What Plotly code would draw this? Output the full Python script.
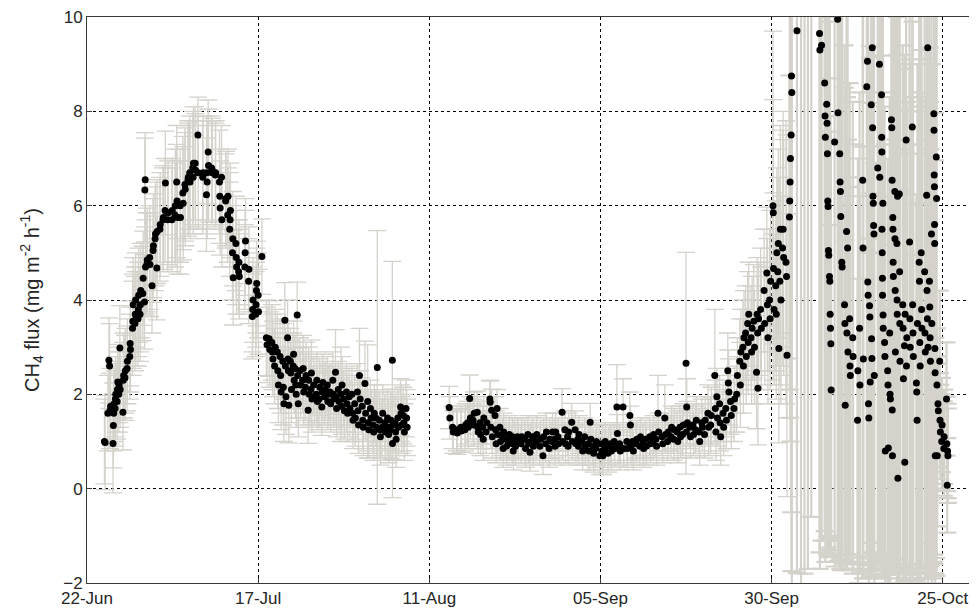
import pandas as pd
import plotly.graph_objects as go

START = pd.Timestamp("2013-06-22")

tick_dates = ["2013-06-22", "2013-07-17", "2013-08-11", "2013-09-05", "2013-09-30", "2013-10-25"]
tick_labels = ["22-Jun", "17-Jul", "11-Aug", "05-Sep", "30-Sep", "25-Oct"]
y_ticks = [-2, 0, 2, 4, 6, 8, 10]

# ---- 24 Jun - 17 Jul : rise and peak (days since 22 Jun) ----
t_rise = [
    2.55, 2.65, 3.05, 3.20, 3.30, 3.36, 3.45,
    3.80, 3.85, 3.90, 3.95, 4.10, 4.15, 4.20,
    4.40, 4.45, 4.50, 4.65, 4.70, 4.80, 4.85,
    5.25, 5.30, 5.35, 5.55, 5.60, 5.85, 5.90,
    6.25, 6.30, 6.35, 6.65, 6.70, 6.75, 7.00,
    7.05, 7.10, 7.15, 7.45, 7.50, 7.55, 7.75,
    7.80, 7.85, 8.15, 8.20, 8.40, 8.45, 8.50,
    8.55, 8.75, 8.80, 9.15, 9.20, 9.50, 9.65,
    9.70, 9.95, 10.00, 10.20, 10.25, 10.65, 10.70,
    11.10, 11.15, 11.40, 11.45, 11.80, 11.85, 12.40,
    12.45, 12.85, 12.90, 13.10, 13.15, 13.20, 13.60,
    13.65, 14.00, 14.05, 14.30, 14.35, 14.75, 14.80,
    15.00, 15.05, 15.45, 15.50, 15.55, 15.80, 15.85,
    16.20, 16.25, 16.90, 16.95, 17.45, 17.50, 17.55,
    17.70, 17.75, 18.20, 18.25, 18.30, 18.75, 18.80,
    19.35, 19.40, 19.45, 19.65, 19.70, 20.25, 20.30,
    20.55, 20.60, 20.85, 20.90, 20.95, 21.25, 21.30,
    21.35, 21.75, 21.80, 21.85, 22.15, 22.20, 22.25,
    23.05, 23.10, 23.15, 23.60, 23.65, 24.15, 24.20,
    24.25, 24.65, 24.70, 24.75, 24.80, 25.00, 25.05,
    25.55,
]
f_rise = [
    1.00, 0.98, 1.60, 2.72, 2.60, 1.65, 1.75,
    0.96, 1.34, 1.60, 1.80, 1.70, 1.90, 2.00,
    1.85, 2.10, 2.26, 2.00, 2.20, 2.98, 2.10,
    1.62, 2.30, 2.40, 2.35, 2.50, 2.55, 2.70,
    2.80, 3.08, 2.95, 3.40, 3.55, 3.90, 3.50,
    3.70, 4.00, 3.60, 3.60, 3.80, 4.10, 3.70,
    3.90, 4.20, 4.14, 4.46, 3.96, 6.33, 6.55,
    4.70, 4.75, 4.85, 4.90, 4.75, 4.30, 5.05,
    5.15, 5.30, 5.40, 4.68, 5.45, 5.50, 5.60,
    5.70, 5.75, 5.90, 6.48, 5.70, 5.85, 5.70,
    5.90, 5.80, 6.00, 6.50, 6.10, 5.75, 6.00,
    5.75, 6.27, 6.05, 6.45, 6.35, 6.55, 6.60,
    6.70, 6.50, 6.80, 6.60, 6.90, 6.90, 6.75,
    7.50, 6.70, 6.60, 6.70, 6.23, 6.70, 6.50,
    7.14, 6.85, 6.80, 6.70, 6.75, 6.65, 6.70,
    6.50, 6.20, 5.95, 6.60, 5.70, 6.10, 6.15,
    5.80, 6.20, 5.50, 5.70, 5.90, 5.00, 5.30,
    4.47, 5.20, 4.90, 4.70, 4.60, 4.80, 4.50,
    4.70, 5.00, 5.25, 4.40, 4.65, 3.65, 3.80,
    4.00, 3.70, 3.90, 4.20, 4.35, 4.10, 3.75,
    4.92,
]
e_rise = [
    0.90, 1.00, 0.80, 0.90, 0.90, 0.80, 0.80,
    1.05, 0.90, 0.80, 0.80, 0.80, 0.80, 0.80,
    0.80, 0.80, 0.80, 0.80, 0.80, 0.90, 0.80,
    0.80, 0.80, 0.90, 0.90, 0.90, 0.90, 0.90,
    0.90, 0.90, 0.90, 1.00, 1.00, 1.00, 1.00,
    1.00, 1.00, 1.00, 1.00, 1.00, 1.00, 1.00,
    1.00, 1.00, 1.00, 1.00, 1.00, 1.10, 1.00,
    1.00, 1.10, 1.10, 1.10, 1.10, 1.00, 1.10,
    1.10, 1.10, 1.10, 1.10, 1.10, 1.10, 1.10,
    1.10, 1.10, 1.10, 1.10, 1.10, 1.10, 1.10,
    1.10, 1.10, 1.20, 1.20, 1.20, 1.20, 1.20,
    1.20, 1.20, 1.20, 1.20, 1.20, 1.20, 1.20,
    1.20, 1.20, 1.20, 1.20, 1.20, 1.20, 1.20,
    0.80, 1.20, 1.20, 1.20, 1.20, 1.20, 1.20,
    1.10, 1.20, 1.10, 1.10, 1.10, 1.10, 1.10,
    1.10, 1.00, 1.00, 1.10, 1.00, 1.00, 1.00,
    1.00, 1.00, 1.00, 1.00, 1.00, 1.00, 1.00,
    1.00, 1.00, 1.00, 1.00, 0.90, 0.90, 0.90,
    0.90, 0.90, 0.90, 0.90, 0.90, 0.90, 0.90,
    0.90, 0.90, 0.90, 0.90, 0.90, 0.90, 0.90,
    0.80,
]

# ---- 18 Jul - 8 Aug : decline ----
t_jul = [
    26.20, 26.30, 26.60, 26.70, 27.00, 27.08, 27.16, 27.40, 27.50,
    27.80, 27.88, 27.96, 28.20, 28.28, 28.36, 28.60, 28.68, 28.76,
    28.90, 28.98, 29.06, 29.30, 29.36, 29.42, 29.48, 29.70, 29.78, 29.86,
    30.10, 30.18, 30.26, 30.40, 30.48, 30.56, 30.70, 30.78, 30.86,
    31.10, 31.20, 31.50, 31.58, 31.66, 31.90, 32.00,
    32.30, 32.38, 32.46, 32.70, 32.78, 32.86, 33.10, 33.20,
    33.50, 33.58, 33.66, 33.90, 34.00, 34.30, 34.38, 34.46, 34.70, 34.80,
    35.10, 35.18, 35.26, 35.50, 35.60, 35.90, 35.98, 36.06,
    36.30, 36.38, 36.46, 36.70, 36.80, 37.10, 37.18, 37.26, 37.50, 37.60,
    37.90, 37.98, 38.06, 38.30, 38.40, 38.70, 38.78, 38.86, 39.10, 39.20,
    39.50, 39.58, 39.66, 39.80, 39.90, 40.20, 40.28, 40.36, 40.60, 40.70,
    41.00, 41.08, 41.16, 41.40, 41.50, 41.80, 41.88, 41.96, 42.20, 42.30,
    42.40, 42.70, 42.78, 42.86, 43.10, 43.20, 43.50, 43.60,
    43.90, 43.98, 44.06, 44.30, 44.40, 44.60, 44.62, 44.70,
    45.00, 45.08, 45.16, 45.40, 45.50, 45.80, 45.88, 45.96,
    46.20, 46.28, 46.36, 46.60, 46.68, 46.76,
]
f_jul = [
    3.20, 3.05, 3.18, 2.95, 3.10, 2.90, 2.75, 2.60, 3.00,
    2.90, 2.50, 2.20, 2.80, 2.40, 2.05, 2.70, 2.15, 1.80,
    3.57, 2.60, 1.95, 3.20, 2.75, 2.50, 1.77, 2.70, 2.45, 2.10,
    2.60, 2.85, 2.30, 2.55, 2.20, 2.00, 3.68, 2.40, 1.80,
    2.50, 2.20, 2.30, 2.55, 2.05, 2.15, 2.40,
    1.66, 2.30, 2.00, 2.10, 2.45, 1.90, 2.20, 1.95,
    2.00, 2.30, 1.85, 1.90, 2.15, 1.73, 2.05, 2.25, 1.95, 2.10,
    2.20, 1.85, 2.00, 2.05, 1.80, 2.30, 2.00, 1.90,
    2.47, 1.95, 1.70, 2.10, 1.85, 2.00, 1.75, 2.20, 1.90, 1.65,
    2.05, 1.80, 1.60, 1.95, 1.70, 2.00, 1.60, 1.45, 1.80, 1.50,
    2.05, 1.65, 1.35, 2.40, 1.90, 1.75, 1.45, 1.30, 2.23, 1.60,
    1.85, 1.40, 1.25, 1.70, 1.50, 1.35, 1.20, 1.60, 1.50, 1.30,
    2.57, 1.45, 1.25, 1.10, 1.30, 1.60, 1.40, 1.20,
    1.50, 1.30, 1.15, 1.25, 1.45, 2.72, 0.96, 1.35,
    1.40, 1.20, 1.05, 1.50, 1.30, 1.73, 1.60, 1.35,
    1.55, 1.40, 1.20, 1.70, 1.50, 1.30,
]
e_jul = [
    0.80, 0.80, 0.80, 0.80, 0.80, 0.80, 0.80, 0.80, 0.80,
    0.80, 0.80, 0.80, 0.80, 0.80, 0.80, 0.80, 0.80, 0.80,
    0.80, 0.80, 0.80, 0.80, 0.80, 0.80, 0.80, 0.70, 0.70, 0.70,
    0.70, 0.70, 0.70, 0.70, 0.70, 0.70, 0.70, 0.70, 0.70,
    0.70, 0.70, 0.70, 0.70, 0.70, 0.70, 0.70,
    0.70, 0.70, 0.70, 0.70, 0.70, 0.70, 0.60, 0.60,
    0.60, 0.60, 0.60, 0.60, 0.60, 0.60, 0.60, 0.60, 0.60, 0.60,
    0.60, 0.60, 0.60, 0.60, 0.60, 0.60, 0.60, 0.60,
    0.90, 0.60, 0.60, 0.60, 0.60, 1.00, 0.60, 0.60, 0.60, 0.60,
    0.60, 0.60, 0.60, 0.60, 0.60, 0.60, 0.60, 0.60, 0.60, 0.60,
    0.60, 0.60, 0.60, 1.00, 0.60, 0.60, 0.60, 0.60, 0.90, 0.60,
    1.20, 0.60, 0.60, 0.60, 0.60, 0.60, 0.60, 0.60, 0.60, 0.60,
    2.90, 0.60, 0.60, 0.60, 0.60, 0.60, 0.60, 0.60,
    0.60, 0.60, 0.60, 0.60, 0.60, 2.10, 1.15, 0.60,
    0.60, 0.60, 0.60, 0.60, 0.60, 0.60, 0.60, 0.60,
    0.60, 0.60, 0.60, 0.60, 0.60, 0.60,
]

# ---- 14 Aug - 2 Oct : low plateau and rise ----
t_aug = [
    52.90, 53.00, 53.40, 53.50, 54.00, 54.10, 54.60, 54.70,
    55.20, 55.30, 55.60, 55.70, 55.90, 56.00, 56.40, 56.48, 56.56,
    57.00, 57.08, 57.16, 57.40, 57.50, 57.80, 57.88, 57.96, 58.30, 58.40,
    58.85, 58.90, 58.98, 59.10, 59.20, 59.60, 59.68, 59.76, 59.90, 60.00,
    60.30, 60.40, 60.70, 60.78, 60.86, 61.20, 61.30, 61.60, 61.70,
    62.10, 62.18, 62.26, 62.50, 62.60, 62.90, 63.00, 63.40, 63.50,
    63.95, 64.05, 64.40, 64.50, 64.70, 64.80, 65.10, 65.20, 65.60, 65.70,
    66.15, 66.25, 66.60, 66.70, 67.00, 67.10, 67.50, 67.60, 67.90, 68.00,
    68.30, 68.38, 68.46, 68.80, 68.90, 69.40, 69.50, 69.80, 69.90,
    70.20, 70.28, 70.36, 70.80, 70.90, 71.30, 71.40, 71.70, 71.78, 71.86,
    72.30, 72.40, 72.70, 72.80, 73.20, 73.30, 73.50, 73.60, 73.90, 74.00,
    74.30, 74.40, 74.80, 74.90, 75.20, 75.28, 75.36, 75.60, 75.70,
    76.10, 76.20, 76.50, 76.60, 77.00, 77.10, 77.40, 77.48, 77.56,
    77.80, 77.90, 78.30, 78.40, 78.85, 78.95, 79.30, 79.38, 79.46,
    79.70, 79.80, 80.20, 80.30, 80.75, 80.85, 81.20, 81.30, 81.60, 81.70,
    82.20, 82.30, 82.65, 82.75, 83.10, 83.20, 83.40, 83.50, 84.00, 84.10,
    84.40, 84.50, 84.80, 84.90, 85.30, 85.40, 85.70, 85.80, 86.20, 86.30,
    86.60, 86.70, 87.00, 87.10, 87.50, 87.55, 87.60, 87.70, 88.05, 88.15,
    88.50, 88.60, 88.90, 89.00, 89.40, 89.50, 89.80, 89.90, 90.20, 90.30,
    90.70, 90.80, 91.10, 91.20, 91.70, 91.78, 91.86, 92.00, 92.10,
    92.40, 92.48, 92.56, 92.90, 93.00, 93.30, 93.40, 93.60, 93.68, 93.76,
    94.00, 94.10, 94.50, 94.60, 94.90, 95.00, 95.35, 95.43, 95.51,
    95.80, 95.88, 95.96, 96.20, 96.30, 96.50, 96.58, 96.66,
    97.00, 97.08, 97.16, 97.40, 97.50, 97.80, 97.88, 97.96, 98.00, 98.10,
    98.40, 98.50, 98.90, 99.00, 99.30, 99.38, 99.46, 99.70, 99.78, 99.86,
    100.20, 100.24, 100.28, 100.36, 100.60, 100.68, 100.76,
    100.90, 100.98, 101.06, 101.20, 101.28, 101.36, 101.60, 101.68, 101.76,
    102.10, 102.18, 102.25,
]
f_aug = [
    1.72, 1.50, 1.30, 1.20, 1.25, 1.18, 1.30, 1.22,
    1.25, 1.35, 1.40, 1.30, 1.91, 1.50, 1.45, 1.35, 1.60,
    1.62, 1.30, 1.20, 1.40, 1.15, 1.30, 1.05, 1.50, 1.20, 1.40,
    1.90, 1.83, 1.30, 1.66, 1.10, 1.55, 1.25, 0.95, 1.70, 1.15,
    1.30, 1.00, 1.10, 0.85, 1.20, 1.05, 0.90, 1.00, 1.15,
    0.95, 1.10, 0.80, 1.05, 0.90, 1.10, 1.00, 0.95, 1.10,
    1.05, 0.85, 1.15, 0.95, 0.77, 1.00, 1.10, 0.90, 1.00, 1.15,
    0.90, 1.05, 0.70, 1.10, 0.95, 1.20, 0.85, 1.05, 1.00, 1.20,
    1.05, 0.90, 1.20, 1.10, 0.95, 1.62, 1.00, 1.25, 0.95,
    1.10, 0.90, 1.20, 1.41, 1.00, 1.25, 0.95, 1.05, 0.90, 1.15,
    1.00, 0.80, 1.10, 0.90, 0.95, 0.80, 1.41, 1.05, 0.90, 0.75,
    0.85, 1.00, 0.95, 0.70, 0.80, 0.95, 0.70, 0.85, 1.00,
    0.75, 0.90, 0.95, 0.80, 1.00, 0.85, 1.73, 1.17, 0.90,
    0.95, 0.80, 1.73, 0.85, 1.00, 0.85, 1.55, 1.35, 0.90,
    1.00, 0.80, 0.95, 1.05, 0.90, 1.10, 1.00, 0.85, 1.05, 0.90,
    1.10, 0.95, 1.00, 1.15, 1.05, 0.90, 1.60, 1.20, 1.10, 0.95,
    1.50, 1.15, 1.00, 1.20, 1.10, 1.30, 1.05, 1.25, 1.20, 1.00,
    1.30, 1.10, 1.15, 1.35, 2.66, 1.20, 1.73, 1.40, 1.30, 1.10,
    1.35, 1.15, 1.25, 1.45, 1.20, 1.00, 1.40, 1.30, 1.15, 1.45,
    1.60, 1.30, 1.35, 1.55, 2.40, 1.70, 1.20, 1.95, 1.50,
    1.80, 1.40, 1.10, 1.60, 1.30, 1.70, 1.45, 2.50, 2.24, 2.05,
    1.85, 1.55, 1.70, 1.90, 2.00, 2.40, 2.70, 2.20, 2.90,
    3.00, 2.60, 3.20, 3.30, 2.80, 3.50, 3.10, 3.70,
    3.20, 2.90, 3.40, 3.55, 3.00, 2.47, 3.70, 3.30, 2.13, 3.60,
    3.80, 3.40, 4.20, 3.50, 4.57, 3.90, 3.20, 4.00, 3.60, 4.40,
    6.00, 5.85, 4.67, 3.80, 4.30, 3.70, 5.00,
    4.60, 5.20, 2.97, 4.40, 5.50, 4.00, 5.10, 5.50, 4.90,
    4.80, 4.50, 2.83,
]
e_aug = [
    0.45, 0.45, 0.45, 0.45, 0.45, 0.45, 0.45, 0.45,
    0.45, 0.45, 0.45, 0.45, 0.50, 0.45, 0.45, 0.45, 0.45,
    0.45, 0.45, 0.45, 0.45, 0.45, 0.45, 0.45, 0.45, 0.45, 0.45,
    0.40, 0.45, 0.45, 0.45, 0.45, 0.40, 0.40, 0.40, 0.40, 0.40,
    0.40, 0.40, 0.40, 0.40, 0.40, 0.40, 0.40, 0.40, 0.40,
    0.40, 0.40, 0.40, 0.40, 0.40, 0.40, 0.40, 0.40, 0.40,
    0.40, 0.40, 0.40, 0.40, 0.40, 0.40, 0.40, 0.40, 0.40, 0.40,
    0.40, 0.40, 0.40, 0.40, 0.40, 0.40, 0.40, 0.40, 0.40, 0.40,
    0.40, 0.40, 0.40, 0.40, 0.40, 0.50, 0.40, 0.40, 0.40,
    0.40, 0.40, 0.40, 0.40, 0.40, 0.40, 0.40, 0.40, 0.40, 0.40,
    0.40, 0.40, 0.40, 0.40, 0.40, 0.40, 0.40, 0.40, 0.40, 0.40,
    0.40, 0.40, 0.40, 0.40, 0.40, 0.40, 0.40, 0.40, 0.40,
    0.40, 0.40, 0.40, 0.40, 0.40, 0.40, 0.90, 0.40, 0.40,
    0.40, 0.40, 0.60, 0.40, 0.40, 0.40, 0.50, 0.40, 0.40,
    0.40, 0.40, 0.40, 0.40, 0.40, 0.40, 0.40, 0.40, 0.40, 0.40,
    0.40, 0.40, 0.40, 0.40, 0.40, 0.40, 0.80, 0.40, 0.40, 0.40,
    0.70, 0.40, 0.40, 0.40, 0.45, 0.45, 0.45, 0.45, 0.45, 0.45,
    0.45, 0.45, 0.45, 0.45, 2.35, 0.45, 0.60, 0.45, 0.45, 0.45,
    0.45, 0.45, 0.50, 0.50, 0.50, 0.50, 0.50, 0.50, 0.50, 0.50,
    0.60, 0.60, 0.60, 0.60, 1.40, 0.60, 0.60, 0.60, 0.60,
    0.60, 0.60, 0.60, 0.60, 0.60, 0.60, 0.60, 0.80, 0.70, 0.70,
    0.70, 0.70, 0.70, 0.70, 0.80, 0.80, 0.90, 0.90, 0.90,
    1.00, 1.00, 1.00, 1.00, 1.00, 1.10, 1.10, 1.10,
    1.10, 1.10, 1.10, 1.20, 1.20, 1.20, 1.20, 1.20, 1.20, 1.20,
    1.30, 1.30, 1.30, 1.30, 1.40, 1.40, 1.40, 1.50, 1.50, 1.50,
    3.70, 2.40, 1.60, 1.60, 1.80, 1.80, 1.80,
    2.00, 2.00, 2.00, 2.20, 2.20, 2.20, 2.50, 2.50, 2.50,
    3.00, 3.00, 3.00,
]

# ---- 2 Oct - 27 Oct : noisy period (a few values lie above the axis top) ----
t_oct = [
    102.60, 102.65, 102.70, 102.75, 102.85, 102.90,
    102.95, 103.70, 104.30, 104.80, 105.30, 105.80,
    107.00, 107.05, 107.30, 107.75,
    107.80, 107.85, 108.05, 108.10, 108.15, 108.20,
    108.25, 108.30, 108.35, 108.45, 108.50, 108.55,
    108.60, 108.65, 108.70, 109.20, 109.65, 109.70,
    109.95, 110.00, 110.05, 110.10, 110.25, 110.30,
    110.65, 110.70, 110.75, 110.95, 111.00, 111.10,
    111.15, 111.40, 111.45, 111.50, 111.85, 111.90,
    112.55, 112.60, 112.85, 112.90, 113.30, 113.35,
    113.40, 113.90, 114.00, 114.05, 114.10, 114.15,
    114.20, 114.30, 114.35, 114.40, 114.55, 114.60,
    114.65, 114.70, 114.75, 114.80, 114.85, 114.90,
    114.95, 115.00, 115.50, 115.75, 115.80, 116.05,
    116.08, 116.10, 116.12, 116.15, 116.18, 116.20,
    116.25, 116.28, 116.30, 116.50, 116.55, 116.60,
    116.95, 117.00, 117.05, 117.25, 117.30, 117.35,
    117.50, 117.55, 117.60, 117.62, 117.65, 117.70,
    117.72, 117.75, 117.78, 118.00, 118.02, 118.05,
    118.08, 118.30, 118.32, 118.35, 118.40, 118.45,
    118.65, 118.70, 118.72, 118.75, 119.15, 119.20,
    119.25, 119.40, 119.45, 119.50, 119.65, 119.70,
    119.75, 120.15, 120.20, 120.25, 120.55, 120.60,
    120.65, 120.70, 121.15, 121.20, 121.25, 121.30,
    121.55, 121.60, 121.65, 121.70, 121.85, 121.90,
    121.95, 122.35, 122.40, 122.45, 122.65, 122.70,
    122.75, 122.80, 122.85, 123.05, 123.10, 123.15,
    123.20, 123.35, 123.40, 123.70, 123.72, 123.75,
    123.78, 123.80, 123.82, 123.85, 123.88, 123.90,
    124.05, 124.10, 124.15, 124.20, 124.30, 124.35,
    124.55, 124.60, 124.65, 124.85, 124.90, 125.15,
    125.20, 125.55, 125.60, 125.65, 125.70, 125.75,
]
f_oct = [
    5.76, 6.10, 6.50, 7.00, 7.50, 8.75,
    8.40, 9.71, 10.60, 11.20, 10.80, 10.40,
    9.65, 9.30, 9.40, 8.60,
    7.90, 7.45, 8.15, 7.75, 7.10, 6.10,
    5.98, 5.05, 4.95, 4.50, 4.40, 3.70,
    3.40, 3.07, 2.09, 7.35, 9.95, 7.97,
    7.10, 6.50, 6.30, 5.77, 4.80, 4.70,
    3.90, 3.50, 1.77, 5.45, 3.30, 5.10,
    2.90, 3.60, 2.60, 2.40, 3.20, 2.80,
    1.45, 2.50, 3.40, 2.20, 6.54, 5.10,
    2.75, 8.52, 9.06, 4.38, 4.10, 1.80,
    1.50, 3.88, 3.64, 2.26, 8.14, 3.18,
    2.76, 9.35, 7.65, 6.20, 6.05, 5.58,
    5.40, 2.40, 6.80, 9.00, 6.60, 8.35,
    7.45, 7.14, 5.50, 5.00, 4.46, 4.10,
    6.05, 3.68, 3.40, 3.10, 2.80, 0.80,
    2.50, 2.20, 0.86, 3.30, 2.00, 1.90,
    7.82, 7.65, 6.54, 1.67, 0.70, 5.75,
    5.50, 4.80, 4.50, 6.30, 5.30, 4.20,
    2.90, 5.20, 4.00, 3.70, 6.20, 0.22,
    6.25, 4.60, 3.50, 2.70, 3.90, 3.40,
    2.33, 3.03, 0.56, 3.70, 7.39, 2.60,
    3.20, 5.23, 3.60, 3.00, 7.67, 3.90,
    3.30, 2.80, 2.24, 2.05, 1.45, 3.50,
    4.80, 4.40, 3.10, 2.60, 5.00, 3.80,
    3.40, 4.60, 3.30, 2.90, 6.22, 4.20,
    3.60, 9.35, 3.00, 4.40, 3.85, 3.20,
    2.70, 5.40, 3.50, 7.95, 7.60, 6.65,
    6.40, 5.60, 5.20, 2.97, 2.46, 0.70,
    7.03, 6.15, 2.20, 0.70, 1.80, 1.65,
    2.70, 1.45, 1.20, 1.00, 1.35, 0.85,
    1.10, 1.90, 0.95, 0.07, 0.80, 0.70,
]
e_oct = [
    3.0, 4.0, 5.0, 6.0, 8.0, 10.5,
    10.5, 11.5, 13.0, 13.0, 12.5, 11.0,
    11.0, 11.0, 10.5, 9.5,
    9.0, 9.0, 9.5, 9.0, 8.5, 7.5,
    7.0, 6.5, 6.0, 5.5, 5.5, 5.0,
    4.5, 4.5, 3.5, 9.0, 11.5, 9.5,
    8.5, 8.0, 8.0, 7.5, 6.5, 6.0,
    5.5, 5.0, 3.5, 7.0, 5.0, 6.5,
    4.5, 5.0, 4.0, 4.0, 5.0, 4.5,
    3.0, 4.5, 5.0, 4.0, 8.0, 7.0,
    4.5, 10.0, 10.5, 6.0, 6.0, 3.5,
    3.5, 5.5, 5.5, 4.0, 9.5, 5.0,
    4.5, 10.5, 9.0, 8.0, 7.5, 7.0,
    7.0, 4.5, 8.5, 10.5, 8.0, 10.0,
    9.0, 9.0, 7.0, 6.5, 6.0, 6.0,
    7.5, 5.5, 5.0, 5.0, 4.5, 3.0,
    4.5, 4.0, 3.0, 5.0, 4.0, 3.5,
    9.5, 9.0, 8.0, 3.5, 2.5, 7.5,
    7.0, 6.5, 6.0, 8.0, 7.0, 6.0,
    4.5, 7.0, 6.0, 5.5, 8.0, 2.5,
    8.0, 6.5, 5.5, 4.5, 5.5, 5.5,
    4.0, 5.0, 2.5, 5.5, 9.0, 4.5,
    5.0, 7.0, 5.5, 5.0, 9.5, 6.0,
    5.0, 4.5, 4.0, 4.0, 3.5, 5.5,
    6.5, 6.0, 5.0, 4.5, 7.0, 5.5,
    5.0, 6.5, 5.0, 4.5, 8.0, 6.0,
    5.5, 10.5, 5.0, 6.0, 5.5, 5.0,
    4.5, 7.0, 5.5, 9.5, 9.0, 8.5,
    8.0, 7.5, 7.0, 5.0, 4.5, 2.5,
    8.5, 8.0, 1.2, 1.5, 1.0, 1.0,
    1.5, 1.0, 1.0, 1.0, 1.0, 1.0,
    1.0, 1.2, 1.0, 1.0, 1.0, 1.0,
]

segments = [(t_rise, f_rise, e_rise), (t_jul, f_jul, e_jul),
            (t_aug, f_aug, e_aug), (t_oct, f_oct, e_oct)]
for i, (a, b, c) in enumerate(segments):
    assert len(a) == len(b) == len(c), (i, len(a), len(b), len(c))

days_main = t_rise + t_jul + t_aug
flux_main = f_rise + f_jul + f_aug
err_main = e_rise + e_jul + e_aug
when_main = START + pd.to_timedelta(days_main, unit="D")
when_oct = START + pd.to_timedelta(t_oct, unit="D")

BAR = "#d5d2cb"
fig = go.Figure()
fig.add_trace(go.Scatter(
    x=when_main, y=flux_main, mode="markers",
    marker=dict(color="rgba(0,0,0,0)", size=1),
    error_y=dict(type="data", array=err_main, visible=True,
                 color=BAR, thickness=1.3, width=9),
    hoverinfo="skip", showlegend=False,
))
fig.add_trace(go.Scatter(
    x=when_oct, y=f_oct, mode="markers",
    marker=dict(color="rgba(0,0,0,0)", size=1),
    error_y=dict(type="data", array=e_oct, visible=True,
                 color=BAR, thickness=2.2, width=9),
    hoverinfo="skip", showlegend=False,
))
fig.add_trace(go.Scatter(
    x=list(when_main) + list(when_oct), y=flux_main + f_oct, mode="markers",
    marker=dict(color="black", size=7, line=dict(width=0)),
    showlegend=False,
))

font_family = "Liberation Sans, Arial, Helvetica, sans-serif"
axis_common = dict(
    showline=True, linecolor="#3a3a3a", linewidth=1,
    ticks="inside", ticklen=5, tickcolor="#3a3a3a",
    showgrid=True, gridcolor="black", gridwidth=1, griddash="3px,3px",
    zeroline=False, automargin=False, ticklabeloverflow="allow",
    tickfont=dict(family=font_family, size=17, color="#262626"),
)
fig.update_xaxes(
    **axis_common,
    range=[START, START + pd.Timedelta(days=130)],
    tickvals=pd.to_datetime(tick_dates), ticktext=tick_labels,
    mirror=True,
)
fig.update_yaxes(
    **axis_common,
    range=[-2, 10], tickvals=y_ticks,
    title=dict(text="CH<sub>4</sub> flux (mg m<sup>-2</sup> h<sup>-1</sup>)",
               font=dict(family=font_family, size=20, color="#262626"),
               standoff=18),
)
# the page body adds an 8 px offset, so the figure is 8 px smaller
fig.update_layout(
    width=969, height=604,
    margin=dict(l=79, r=0, t=9, b=29),
    paper_bgcolor="white", plot_bgcolor="white",
    showlegend=False,
)
fig.write_html("out.html")
